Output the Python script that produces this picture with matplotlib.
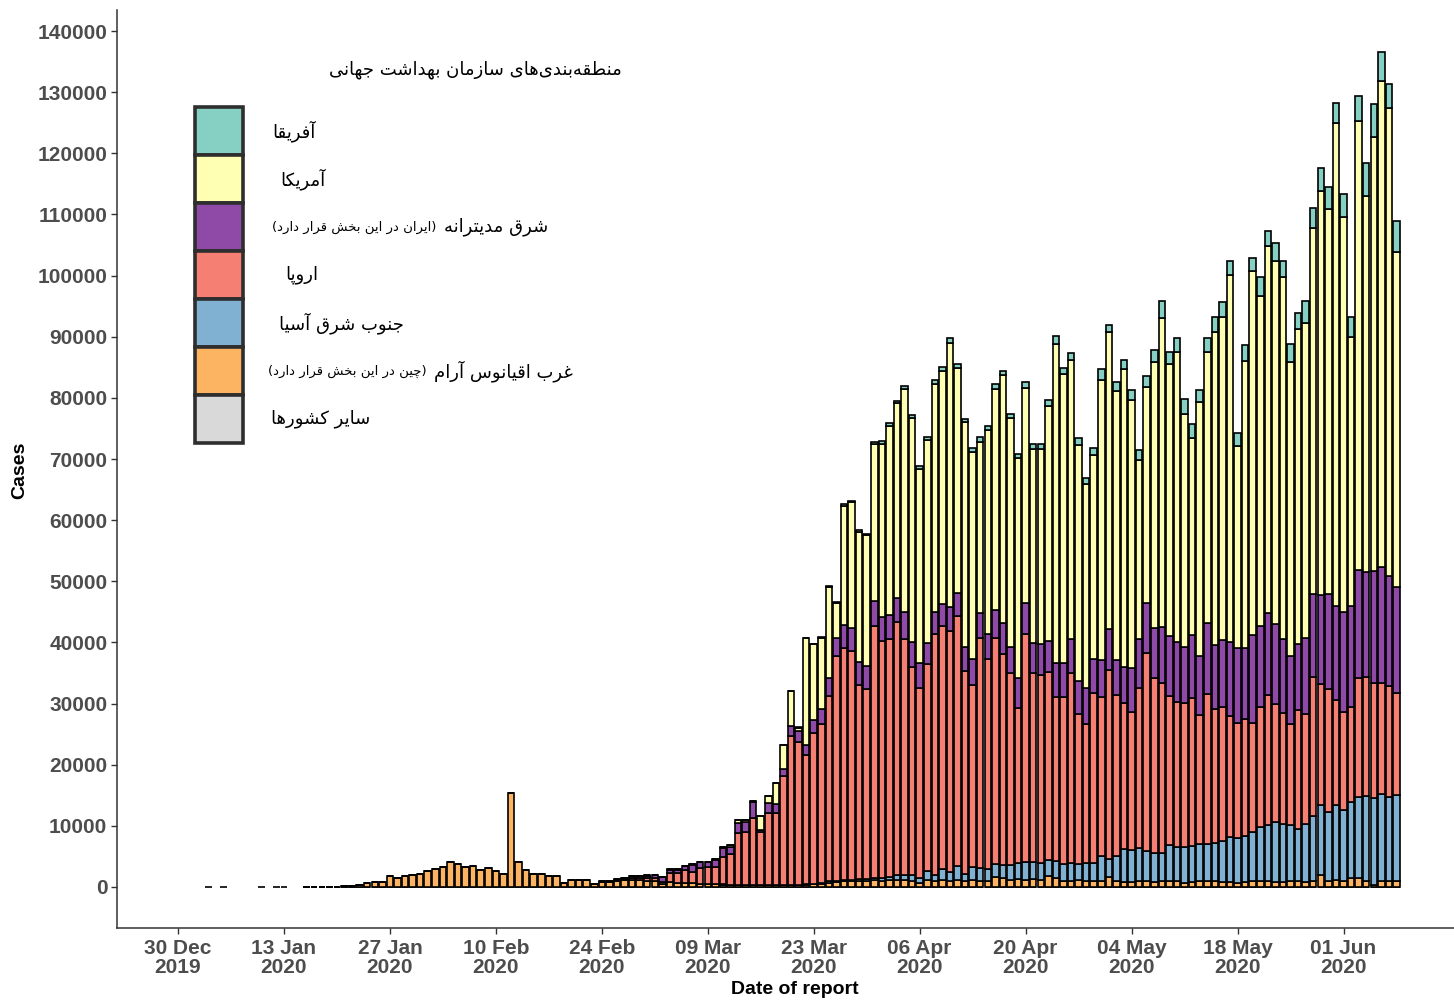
import unicodedata
import numpy as np
import pandas as pd
import matplotlib
matplotlib.use("Agg")
import matplotlib.pyplot as plt
from matplotlib.patches import Rectangle

# ---------------------------------------------------------------- data
# days with an (empty) report before the series starts
dash_dates = ["2020-01-03", "2020-01-05", "2020-01-10", "2020-01-12", "2020-01-13"]
# continuous daily reports
report_dates = pd.date_range("2020-01-16", "2020-06-08", freq="D")

# segments: 16 Jan-22 Feb | 23 Feb-24 Mar | 25 Mar-5 Apr | 6-28 Apr | 29 Apr-19 May | 20 May-8 Jun
wpr = ([0, 0, 0, 0, 60, 100, 150,
        300, 600, 870, 870, 1850, 1520, 1750, 2010, 2070, 2670, 2880, 3320, 4050,
        3810, 3220, 3490, 2780, 3160, 2620, 2070, 15320, 4140, 2780, 2130, 2070, 1850, 1850, 600, 1140, 1140, 1140]
       + [450, 800, 750, 1050, 1100, 1150, 1100, 1000, 900, 450, 870, 700, 700, 600, 550, 500,
          450, 400, 350, 300, 300, 300, 250, 300, 250, 300, 350, 300, 400, 500, 500]
       + [700, 800, 900, 900, 1000, 900, 1100, 1000, 1100, 1200, 1100, 1000]
       + [700, 1100, 1000, 1100, 1000, 1200, 900, 1100, 1000, 1000, 1700, 1400, 1200, 1300, 1200,
          1300, 1100, 1800, 1400, 900, 1000, 1100, 900]
       + [900, 900, 1600, 900, 800, 800, 900, 900, 800, 900, 1000, 900, 700, 800, 900, 1000,
          900, 800, 800, 600, 800]
       + [900, 900, 900, 800, 800, 900, 900, 800, 900, 2000, 900, 1200, 1000, 1400, 1500, 900,
          300, 1000, 900, 900])

sear = ([0] * 38
        + [0] * 14 + [10, 10, 20, 20, 20, 30, 30, 30, 40, 40, 40, 50, 50, 50, 60, 70, 80]
        + [200, 200, 200, 300, 300, 400, 400, 500, 600, 700, 900, 1000]
        + [700, 1570, 960, 1790, 1510, 2230, 1230, 2120, 2050, 1890, 2060, 2200, 2400, 2680, 2940,
           2730, 2880, 2620, 2910, 2860, 2870, 2660, 3100]
        + [3080, 4170, 2930, 4170, 5360, 5250, 5420, 5040, 4810, 4710, 5870, 5590, 5790, 5910,
           6130, 6030, 6350, 6780, 7330, 7360, 7480]
        + [8150, 8970, 9240, 9890, 9500, 9240, 8530, 9500, 10710, 11410, 11420, 12210, 11590,
           12560, 13170, 13980, 14200, 14210, 13870, 14150])

eur = ([0] * 38
       + [20, 50, 80, 120, 170, 350, 420, 550, 650, 400, 1360, 1530, 2000, 1800, 2490, 2700,
          2850, 4540, 4970, 8440, 8720, 10900, 8760, 11820, 11860, 17850, 24350, 23420, 21130,
          24670, 26080]
       + [30340, 36700, 38020, 37430, 31740, 31120, 41170, 38690, 38860, 41390, 38500, 34020]
       + [31100, 33800, 39420, 39800, 39410, 40890, 33200, 29820, 37730, 34350, 36910, 34510,
          31450, 25250, 37240, 30920, 30690, 30800, 26720, 27370, 31080, 24540, 22660]
       + [27800, 25960, 30960, 26330, 23880, 22630, 26180, 32280, 28520, 27810, 24370, 23820,
          23660, 24150, 21100, 24480, 21810, 21910, 19840, 18910, 19120]
       + [17720, 19520, 21260, 19240, 18110, 16520, 19520, 18000, 22690, 19790, 20010, 17180,
          16090, 15530, 19460, 19420, 18920, 18210, 18110, 16630])

emr = ([0] * 38
       + [30, 50, 70, 130, 150, 280, 290, 330, 420, 800, 620, 630, 700, 1200, 1000, 850, 1100,
          1400, 1250, 1640, 1640, 2740, 270, 1630, 1360, 1090, 1500, 1800, 1640, 2080, 2400]
       + [2910, 2980, 3730, 3790, 3790, 3790, 4110, 3910, 3980, 3910, 4410, 4040]
       + [4090, 3490, 3650, 3550, 3930, 3820, 3980, 4200, 3980, 4140, 4630, 5120, 4150, 4900,
          5120, 5010, 5070, 5070, 5660, 5560, 5560, 5440, 5840]
       + [5460, 6100, 6650, 5730, 5990, 7090, 8010, 8180, 8180, 9050, 9810, 9810, 9050, 10360,
          9650, 11620, 10520, 10910, 12150, 12170, 11640]
       + [14450, 13300, 13470, 13090, 12100, 11120, 10790, 12370, 13620, 14560, 15590, 15370,
          16350, 16470, 17720, 17270, 18320, 18870, 17990, 17440])

amr = ([0] * 38
       + [0, 0, 0, 0, 0, 20, 20, 20, 30, 40, 30, 60, 100, 100, 90, 80, 160, 240, 280, 530,
          250, 80, 2270, 1060, 3520, 3920, 5770, 510, 17500, 12350, 11700]
       + [14960, 5750, 19460, 20520, 21270, 21310, 25620, 28430, 30870, 31890, 36610, 36720]
       + [31710, 33090, 37270, 38210, 43190, 36750, 36690, 33910, 28090, 33340, 36140, 40430,
          37490, 36020, 35140, 31660, 31830, 38380, 52150, 47150, 45730, 38580, 33400]
       + [33360, 45770, 48580, 44010, 48690, 43960, 29390, 35410, 43550, 50660, 44520, 47430,
          38240, 32240, 41550, 44420, 51270, 52790, 59940, 33060, 47040]
       + [59480, 53930, 59940, 59330, 59190, 48070, 51480, 51610, 59840, 66010, 62920, 79020,
          64550, 43950, 73490, 61490, 70860, 79580, 76530, 54790])

afr = ([0] * 38
       + [0] * 19 + [20, 20, 20, 20, 30, 30, 30, 40, 40, 50, 70, 70]
       + [150, 150, 250, 250, 300, 250, 300, 350, 400, 450, 500, 450]
       + [500, 550, 600, 650, 700, 650, 550, 600, 700, 750, 800, 800, 750, 700, 900, 850, 900,
          1000, 1200, 1100, 1100, 1100, 1000]
       + [1200, 1800, 1200, 1500, 1400, 1600, 1500, 1700, 2000, 2700, 2000, 2200, 2300, 2300,
          2000, 2200, 2300, 2500, 2300, 2200, 2500]
       + [2200, 3100, 2500, 2900, 2700, 2900, 2700, 3600, 3300, 3800, 3600, 3300, 3700, 3300,
          4000, 5400, 5400, 4700, 4000, 5000])

other = [0] * len(report_dates)

# stacked bottom -> top
series = [other, wpr, sear, eur, emr, amr, afr]
colors = ["#D9D9D9", "#FDB462", "#80B1D3", "#F47F72", "#8E4AA6", "#FFFFB3", "#86CFC3"]
for s in series:
    assert len(s) == len(report_dates), len(s)

# legend, top -> bottom
legend_colors = ["#86CFC3", "#FFFFB3", "#8E4AA6", "#F47F72", "#80B1D3", "#FDB462", "#D9D9D9"]
legend_title = "منطقه\u200cبندی\u200cهای سازمان بهداشت جهانی"
legend_main = ["آفریقا", "آمریکا", "شرق مدیترانه", "اروپا", "جنوب شرق آسیا",
               "غرب اقیانوس آرام", "سایر کشورها"]
legend_note = ["", "", "(ایران در این بخش قرار دارد)", "", "", "(چین در این بخش قرار دارد)", ""]

origin = pd.Timestamp("2019-12-30")
tick_dates = pd.date_range(origin, periods=12, freq="14D")


# ------------------------------------------------ persian text shaping
# matplotlib has no complex text layout, so pick presentation forms by hand
# and reverse to visual order.  (iso, final, initial, medial)
FORMS = {
    "ا": ("\uFE8D", "\uFE8E", None, None), "آ": ("\uFE81", "\uFE82", None, None),
    "د": ("\uFEA9", "\uFEAA", None, None), "ر": ("\uFEAD", "\uFEAE", None, None),
    "ز": ("\uFEAF", "\uFEB0", None, None), "و": ("\uFEED", "\uFEEE", None, None),
    "ب": ("\uFE8F", "\uFE90", "\uFE91", "\uFE92"), "پ": ("\uFB56", "\uFB57", "\uFB58", "\uFB59"),
    "ت": ("\uFE95", "\uFE96", "\uFE97", "\uFE98"), "ج": ("\uFE9D", "\uFE9E", "\uFE9F", "\uFEA0"),
    "چ": ("\uFB7A", "\uFB7B", "\uFB7C", "\uFB7D"), "خ": ("\uFEA5", "\uFEA6", "\uFEA7", "\uFEA8"),
    "س": ("\uFEB1", "\uFEB2", "\uFEB3", "\uFEB4"), "ش": ("\uFEB5", "\uFEB6", "\uFEB7", "\uFEB8"),
    "ط": ("\uFEC1", "\uFEC2", "\uFEC3", "\uFEC4"), "غ": ("\uFECD", "\uFECE", "\uFECF", "\uFED0"),
    "ف": ("\uFED1", "\uFED2", "\uFED3", "\uFED4"), "ق": ("\uFED5", "\uFED6", "\uFED7", "\uFED8"),
    "ک": ("\uFB8E", "\uFB8F", "\uFB90", "\uFB91"), "ك": ("\uFED9", "\uFEDA", "\uFEDB", "\uFEDC"),
    "م": ("\uFEE1", "\uFEE2", "\uFEE3", "\uFEE4"), "ن": ("\uFEE5", "\uFEE6", "\uFEE7", "\uFEE8"),
    "ه": ("\uFEE9", "\uFEEA", "\uFEEB", "\uFEEC"), "ی": ("\uFBFC", "\uFBFD", "\uFBFE", "\uFBFF"),
    "ي": ("\uFEF1", "\uFEF2", "\uFEF3", "\uFEF4"), "ل": ("\uFEDD", "\uFEDE", "\uFEDF", "\uFEE0"),
}


def fa(text):
    chars = list(unicodedata.normalize("NFC", text))
    out = []
    for i, ch in enumerate(chars):
        if ch == "\u200c":
            continue
        if ch not in FORMS:
            out.append(ch)
            continue
        iso, fin, ini, med = FORMS[ch]
        prev = chars[i - 1] if i > 0 else ""
        nxt = chars[i + 1] if i + 1 < len(chars) else ""
        join_prev = prev in FORMS and FORMS[prev][2] is not None
        join_next = ini is not None and nxt in FORMS
        if join_prev and join_next:
            out.append(med)
        elif join_prev:
            out.append(fin)
        elif join_next:
            out.append(ini)
        else:
            out.append(iso)
    return "".join(reversed(out)).translate(str.maketrans("()", ")("))


# ---------------------------------------------------------------- plot
W, H = 1454, 1001
fig = plt.figure(figsize=(W / 100, H / 100), dpi=100)
ax = fig.add_axes([117 / W, 1 - 928 / H, 1 - 117 / W, (928 - 10) / H])

x = (report_dates - origin).days.to_numpy()
x_dash = (pd.to_datetime(dash_dates) - origin).days.to_numpy()

bottom = np.zeros(len(x))
for vals, col in zip(series, colors):
    vals = np.asarray(vals, dtype=float)
    ax.bar(x, vals, width=0.86, bottom=bottom, color=col, edgecolor="black", linewidth=1.2)
    bottom += vals
ax.bar(x_dash, np.zeros(len(x_dash)), width=0.86, color="#FDB462", edgecolor="black", linewidth=1.2)

ax.set_xlim(-8.06, 168.6)
ax.set_ylim(-6706, 143435)

tick_font = dict(family="Liberation Sans", weight="bold", size=15, color="#4D4D4D")
ax.set_yticks(np.arange(0, 140001, 10000))
ax.set_yticklabels([str(v) for v in range(0, 140001, 10000)], **tick_font)
ax.set_xticks((tick_dates - origin).days)
ax.set_xticklabels([d.strftime("%d %b\n%Y") for d in tick_dates], linespacing=1.0, **tick_font)
ax.tick_params(axis="both", length=4, width=1, color="#333333")
ax.tick_params(axis="y", pad=3)
ax.tick_params(axis="x", pad=4)

for side in ["top", "right"]:
    ax.spines[side].set_visible(False)
for side in ["left", "bottom"]:
    ax.spines[side].set_linewidth(1.1)
    ax.spines[side].set_color("#333333")

lab_font = dict(family="Liberation Sans", weight="bold", size=14, color="black")
fig.text(20 / W, 1 - 470 / H, "Cases", rotation=90, ha="center", va="center", **lab_font)
fig.text(795 / W, 1 - 990 / H, "Date of report", ha="center", va="center", **lab_font)

# ---------------------------------------------------------------- legend
fa_font = ["DejaVu Sans"]
fig.text(622 / W, 1 - 70 / H, fa(legend_title), ha="right", va="center", family=fa_font,
         size=13, color="black")

box_top, box_h = 107, 48
label_right = [316, 326, 548, 318, 404, 573, 370]
note_right = [None, None, 436, None, None, 427, None]
for i, col in enumerate(legend_colors):
    y0 = box_top + i * box_h
    fig.patches.append(Rectangle((195 / W, 1 - (y0 + box_h) / H), 48 / W, box_h / H,
                                 transform=fig.transFigure, facecolor=col,
                                 edgecolor="#2E2E2E", linewidth=2.6))
    yc = 1 - (y0 + box_h / 2) / H
    fig.text(label_right[i] / W, yc, fa(legend_main[i]), ha="right", va="center",
             family=fa_font, size=13, color="black")
    if legend_note[i]:
        fig.text(note_right[i] / W, yc, fa(legend_note[i]), ha="right", va="center",
                 family=fa_font, size=9.5, color="black")

fig.savefig("out.png", dpi=100)
